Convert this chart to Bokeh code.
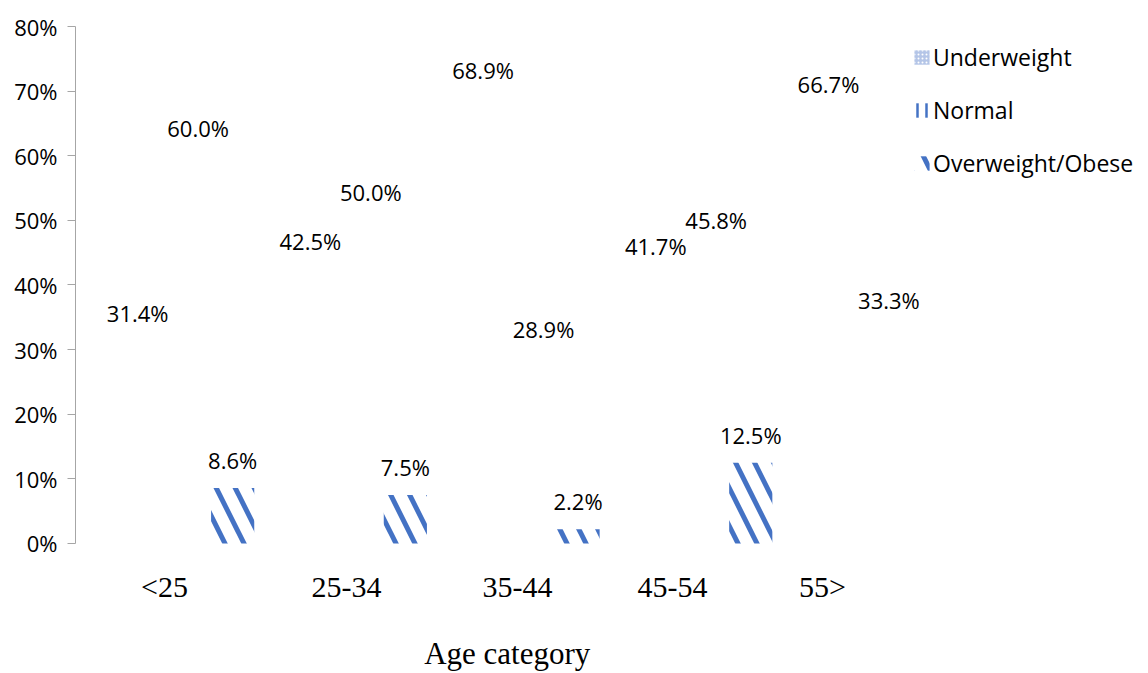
import numpy as np
from bokeh.plotting import figure
from bokeh.models import (ColumnDataSource, FixedTicker, PrintfTickFormatter,
                          CustomJSTickFormatter, Legend, LegendItem, Range1d)
from bokeh.embed import file_html
from bokeh.resources import INLINE

# Share of respondents in each BMI class, by age category (%)
age_groups = ["<25", "25-34", "35-44", "45-54", "55>"]
underweight = [31.4, 42.5, 68.9, 41.7, 66.7]
normal = [60.0, 50.0, 28.9, 45.8, 33.3]
overweight = [8.6, 7.5, 2.2, 12.5, 0.0]
series_names = ["Underweight", "Normal", "Overweight/Obese"]
y_ticks = [0, 10, 20, 30, 40, 50, 60, 70, 80]

SANS = "Open Sans"
SERIF = "Liberation Serif"
BLUE = "#4472C4"
AXIS_GREY = "#A6A6A6"

# horizontal position of each series inside a category, and of the category names
dodge = {"Underweight": -0.30, "Normal": 0.05, "Overweight/Obese": 0.25}
name_shift = [-0.145, -0.091, -0.101, -0.203, -0.335]
bar_width = 0.25
title_x = 1.84

# pattern used for each series (bars and legend swatches)
patterns = {
    "Underweight": dict(fill_color="#B4C5E7", hatch_pattern=".",
                        hatch_color="white", hatch_scale=4, hatch_weight=1.5),
    "Normal": dict(fill_color="white", hatch_pattern="|", hatch_color=BLUE,
                   hatch_scale=9, hatch_weight=2.5),
    "Overweight/Obese": dict(fill_color="white", hatch_pattern="\\",
                             hatch_color=BLUE, hatch_scale=38, hatch_weight=5),
}

# the plot area runs down to the bottom edge so the category names and the
# axis title sit inside it, under the 0% baseline
p = figure(width=1148, height=673,
           x_range=Range1d(-0.66, 5.53), y_range=Range1d(-20.12, 80),
           output_backend="svg", toolbar_location=None,
           min_border_left=75, min_border_right=4,
           min_border_top=26, min_border_bottom=0,
           outline_line_color=None)
p.grid.visible = False

idx = np.arange(len(age_groups))
series_values = {"Underweight": underweight, "Normal": normal,
                 "Overweight/Obese": overweight}

legend_items = []
for name in series_names:
    vals = series_values[name]
    src = ColumnDataSource(dict(x=idx + dodge[name], top=vals))
    if name == "Overweight/Obese":
        p.vbar(x="x", top="top", width=bar_width, source=src,
               line_color=None, **patterns[name])
    else:
        # these series print without a visible fill
        p.vbar(x="x", top="top", width=bar_width, source=src,
               fill_alpha=0, line_alpha=0)

    # swatch renderer for the legend: zero-height bars, nothing shows in the plot
    swatch = p.vbar(x="x", top="top", bottom="top", width=bar_width,
                    source=src, line_color=None, **patterns[name])
    legend_items.append(LegendItem(label=name, renderers=[swatch]))

    keep = [i for i, v in enumerate(vals) if v > 0]
    lab = ColumnDataSource(dict(
        x=[idx[i] + dodge[name] for i in keep],
        y=[vals[i] for i in keep],
        t=["{:.1f}%".format(vals[i]) for i in keep]))
    p.text(x="x", y="y", text="t", source=lab, y_offset=-28,
           text_align="center", text_baseline="middle",
           text_font={"value": SANS}, text_font_size="22px",
           text_color="#000000")

legend = Legend(items=legend_items,
                location=(837, 494), orientation="vertical",
                glyph_width=19, glyph_height=18, label_height=14,
                spacing=21, padding=0, margin=0, label_standoff=2,
                border_line_color=None, background_fill_alpha=0,
                label_text_font=SANS, label_text_font_size="23px",
                label_text_color="#000000")
p.add_layout(legend)

# y axis, drawn only over 0-80 %
yax = p.yaxis[0]
yax.ticker = FixedTicker(ticks=y_ticks)
yax.bounds = (0, 80)
yax.formatter = PrintfTickFormatter(format="%d%%")
yax.axis_line_color = AXIS_GREY
yax.major_tick_line_color = AXIS_GREY
yax.major_tick_out = 8
yax.major_tick_in = 0
yax.minor_tick_line_color = None
yax.major_label_standoff = 10
yax.major_label_text_font = SANS
yax.major_label_text_font_size = "22px"
yax.major_label_text_color = "#000000"

# x axis pinned to the 0% baseline: category names only
xax = p.xaxis[0]
xax.fixed_location = 0
xax.ticker = FixedTicker(ticks=[i + s for i, s in zip(idx, name_shift)])
xax.formatter = CustomJSTickFormatter(args=dict(names=age_groups),
                                      code="return names[index];")
xax.axis_line_color = None
xax.major_tick_line_color = None
xax.minor_tick_line_color = None
xax.major_label_standoff = 21
xax.major_label_text_font = SERIF
xax.major_label_text_font_size = "30px"
xax.major_label_text_color = "#000000"

# axis title under the category names
p.text(x=[title_x], y=[0], text=["Age category"], y_offset=110,
       text_align="center", text_baseline="middle",
       text_font={"value": SERIF}, text_font_size="31px",
       text_color="#000000")

open("out.html", "w").write(file_html(p, INLINE))
